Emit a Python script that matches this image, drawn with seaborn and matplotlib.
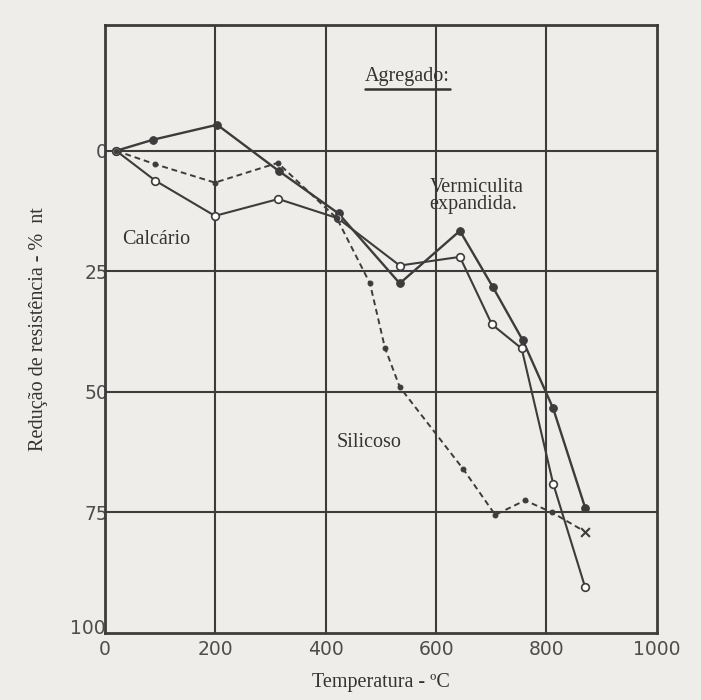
import matplotlib
matplotlib.use("Agg")
import matplotlib.pyplot as plt
import matplotlib.transforms as mtransforms
import seaborn as sns
import pandas as pd
from matplotlib.lines import Line2D

# Temperatures (ºC) and strength reduction (%) per aggregate type
temp_vermiculita = [20, 87, 203, 315, 423, 534, 643, 703, 757, 812, 870]
red_vermiculita = [0, -2.3, -5.4, 4.2, 13, 27.5, 16.6, 28.3, 39.3, 53.4, 74]

temp_calcario = [20, 91, 199, 314, 422, 534, 643, 701, 755, 812, 870]
red_calcario = [0, 6.2, 13.5, 10, 14, 23.8, 22, 36, 41, 69, 90.5]

temp_silicoso = [20, 91, 199, 313, 420, 480, 507, 534, 649, 707, 761, 810, 870]
red_silicoso = [0, 2.8, 6.6, 2.5, 14, 27.5, 40.8, 49, 66, 75.5, 72.5, 75, 79]

x_ticks = [0, 200, 400, 600, 800, 1000]
y_ticks = [0, 25, 50, 75, 100]

labels = {
    "title": "Agregado:",
    "verm": "Vermiculita\nexpandida.",
    "calc": "Calcário",
    "sil": "Silicoso",
    "xlabel": "Temperatura - ºC",
    "ylabel": "Redução de resistência - %  nt",
}

sns.set_style("white")
plt.rcParams["font.family"] = ["DejaVu Sans"]

paper = "#eeede9"
ink = "#3c3c3c"

fig = plt.figure(figsize=(7.01, 7.0), dpi=100, facecolor=paper)
ax = fig.add_axes([0.150, 0.0957, 0.787, 0.868])
ax.set_facecolor(paper)

df_v = pd.DataFrame({"t": temp_vermiculita, "r": red_vermiculita})
df_c = pd.DataFrame({"t": temp_calcario, "r": red_calcario})
df_s = pd.DataFrame({"t": temp_silicoso, "r": red_silicoso})

# grid
for xv in x_ticks[1:-1]:
    ax.axvline(xv, color=ink, lw=1.5, zorder=1)
for yv in y_ticks[:-1]:
    ax.axhline(yv, color=ink, lw=1.5, zorder=1)

sns.lineplot(data=df_v, x="t", y="r", ax=ax, color=ink, lw=1.7,
             marker="o", markersize=5.5, markerfacecolor=ink,
             markeredgecolor=ink, sort=False, zorder=3)
sns.lineplot(data=df_c, x="t", y="r", ax=ax, color=ink, lw=1.5,
             marker="o", markersize=5.5, markerfacecolor="white",
             markeredgecolor=ink, markeredgewidth=1.2, sort=False, zorder=3)
sns.lineplot(data=df_s, x="t", y="r", ax=ax, color=ink, lw=1.4,
             linestyle=(0, (3, 2)), marker="o", markersize=3.5,
             markerfacecolor=ink, markeredgecolor=ink, sort=False, zorder=3)
# end marker of the siliceous series
sns.scatterplot(x=temp_silicoso[-1:], y=red_silicoso[-1:], ax=ax, marker="o",
                s=30, color=paper, linewidth=0, zorder=3.5)
sns.scatterplot(x=temp_silicoso[-1:], y=red_silicoso[-1:], ax=ax, marker="x",
                s=40, color=ink, linewidth=1.5, zorder=4)

ax.set_xlim(0, 1000)
ax.set_ylim(100, -26)
ax.set_xticks(x_ticks)
ax.set_yticks(y_ticks)
ax.tick_params(length=0, labelsize=13.5, labelcolor="#4d4d4d")
ax.tick_params(axis="x", pad=5)
ax.tick_params(axis="y", pad=-2)
for sp in ax.spines.values():
    sp.set_color(ink)
    sp.set_linewidth(2.0)

# lift the bottom y label so it clears the x-axis "0"
lift = mtransforms.ScaledTranslation(-0.02, 0.07, fig.dpi_scale_trans)
ylabels = ax.get_yticklabels()
ylabels[-1].set_transform(ylabels[-1].get_transform() + lift)

serif = "Liberation Serif"
ax.set_xlabel(labels["xlabel"], family=serif, fontsize=14.5, color="#333333",
              labelpad=10)
ax.set_ylabel(labels["ylabel"], family=serif, fontsize=14.5, color="#333333",
              labelpad=16)

t_title = ax.text(471, -15.5, labels["title"], family=serif, fontsize=14.5,
                  color="#333333", va="center", ha="left")
ax.text(588, 9.3, labels["verm"], family=serif, fontsize=14.5, color="#333333",
        va="center", ha="left", linespacing=0.85)
ax.text(31, 18.5, labels["calc"], family=serif, fontsize=14.5, color="#333333",
        va="center", ha="left")
ax.text(420, 60.5, labels["sil"], family=serif, fontsize=14.5, color="#333333",
        va="center", ha="left")

# underline for the heading
fig.canvas.draw()
bb = t_title.get_window_extent(renderer=fig.canvas.get_renderer())
inv = fig.transFigure.inverted()
(x0, y0), (x1, _) = inv.transform([(bb.x0, bb.y0 - 3), (bb.x1, bb.y0 - 3)])
fig.add_artist(Line2D([x0, x1], [y0, y0], transform=fig.transFigure,
                      color="#333333", lw=1.8))

fig.savefig("out.png", dpi=100, facecolor=paper)
